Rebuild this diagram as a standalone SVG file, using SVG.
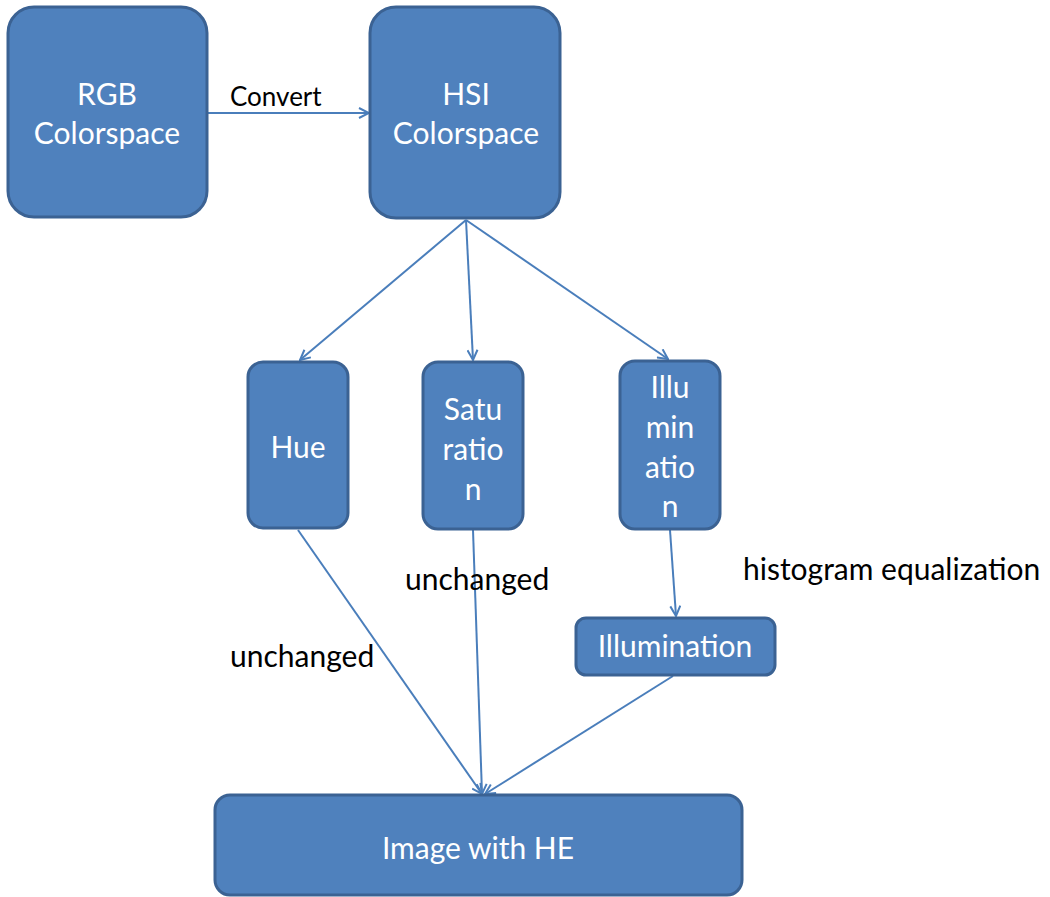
<svg xmlns="http://www.w3.org/2000/svg" width="1050" height="897" viewBox="0 0 1050 897">
<defs>
<style>
.box{fill:#4F81BD;stroke:#3B6293;stroke-width:3}
.bt{font-family:Lato,"Liberation Sans",sans-serif;font-size:30px;fill:#fff;text-anchor:middle}
.lb{font-family:Lato,"Liberation Sans",sans-serif;font-size:30px;fill:#000}
.cn{stroke:#4A7EBB;stroke-width:2;fill:none;marker-end:url(#ah)}
</style>
<marker id="ah" viewBox="0 0 12 12" refX="11" refY="6" markerWidth="12" markerHeight="12" markerUnits="userSpaceOnUse" orient="auto">
<path d="M1,1 L11,6 L1,11" fill="none" stroke="#4A7EBB" stroke-width="2"/>
</marker>
</defs>
<rect width="1050" height="897" fill="#fff"/>
<g id="connectors">
<line class="cn" x1="207" y1="113" x2="369" y2="113"/>
<line class="cn" x1="466" y1="220" x2="300" y2="360"/>
<line class="cn" x1="466" y1="220" x2="473" y2="360"/>
<line class="cn" x1="466" y1="220" x2="668" y2="359"/>
<line class="cn" x1="670" y1="530" x2="676" y2="616"/>
<line class="cn" x1="298" y1="530" x2="482" y2="794"/>
<line class="cn" x1="473" y1="530" x2="482" y2="794"/>
<line class="cn" x1="673" y1="676" x2="485" y2="794"/>
<text class="lb" x="230" y="106" style="font-size:26px">Convert</text>
<text class="lb" x="230" y="667">unchanged</text>
<text class="lb" x="405" y="590">unchanged</text>
<text class="lb" x="743" y="580">histogram equalization</text>
</g>
<g id="rgb">
<rect class="box" x="8" y="7" width="199" height="210" rx="26"/>
<text class="bt" x="107" y="105">RGB</text>
<text class="bt" x="107" y="144">Colorspace</text>
</g>
<g id="hsi">
<rect class="box" x="370" y="7" width="190" height="211" rx="26"/>
<text class="bt" x="466" y="105">HSI</text>
<text class="bt" x="466" y="144">Colorspace</text>
</g>
<g id="hue">
<rect class="box" x="248" y="362" width="100" height="166" rx="15"/>
<text class="bt" x="298" y="458">Hue</text>
</g>
<g id="saturation">
<rect class="box" x="423" y="362" width="100" height="167" rx="15"/>
<text class="bt" x="473" y="420">Satu</text>
<text class="bt" x="473" y="460">ratio</text>
<text class="bt" x="473" y="500">n</text>
</g>
<g id="illumination-v">
<rect class="box" x="620" y="361" width="100" height="168" rx="15"/>
<text class="bt" x="670" y="398">Illu</text>
<text class="bt" x="670" y="438">min</text>
<text class="bt" x="670" y="478">atio</text>
<text class="bt" x="670" y="517">n</text>
</g>
<g id="illumination-h">
<rect class="box" x="576" y="618" width="199" height="57" rx="10"/>
<text class="bt" x="675" y="657">Illumination</text>
</g>
<g id="image-he">
<rect class="box" x="215" y="795" width="527" height="100" rx="15"/>
<text class="bt" x="478" y="859">Image with HE</text>
</g>
</svg>
